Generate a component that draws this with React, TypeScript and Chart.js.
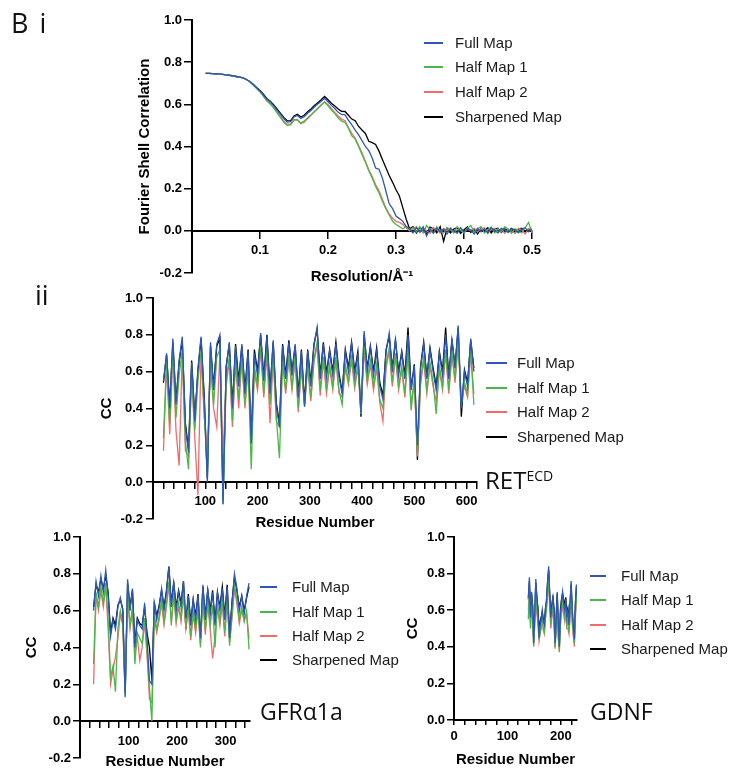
import React, { useEffect, useRef } from 'react';
import { Chart, registerables } from 'chart.js';

Chart.register(...registerables);

const SERIES_NAMES = ['Full Map', 'Half Map 1', 'Half Map 2', 'Sharpened Map'];
const SERIES_COLORS = ['#2c58b8', '#4bb749', '#f26b6b', '#000000'];

// ---------- Panel i: FSC ----------
const fscResolution = [
  0.02, 0.025, 0.03, 0.035, 0.04, 0.045, 0.05, 0.055, 0.06, 0.065,
  0.07, 0.075, 0.08, 0.085, 0.09, 0.095, 0.1, 0.105, 0.11, 0.115,
  0.12, 0.125, 0.13, 0.135, 0.14, 0.145, 0.15, 0.155, 0.16, 0.165,
  0.17, 0.175, 0.18, 0.185, 0.19, 0.195, 0.2, 0.205, 0.21, 0.215,
  0.22, 0.225, 0.23, 0.235, 0.24, 0.245, 0.25, 0.255, 0.26, 0.265,
  0.27, 0.275, 0.28, 0.285, 0.29, 0.295, 0.3, 0.305, 0.31, 0.315,
  0.32, 0.325, 0.33, 0.335, 0.34, 0.345, 0.35, 0.355, 0.36, 0.365,
  0.37, 0.375, 0.38, 0.385, 0.39, 0.395, 0.4, 0.405, 0.41, 0.415,
  0.42, 0.425, 0.43, 0.435, 0.44, 0.445, 0.45, 0.455, 0.46, 0.465,
  0.47, 0.475, 0.48, 0.485, 0.49, 0.495, 0.5,
];
const fscFull = [
  0.747, 0.747, 0.746, 0.745, 0.744, 0.742, 0.74, 0.738, 0.735, 0.732,
  0.729, 0.725, 0.718, 0.708, 0.694, 0.678, 0.663, 0.645, 0.625, 0.612,
  0.594, 0.573, 0.553, 0.532, 0.516, 0.518, 0.54, 0.547, 0.533, 0.541,
  0.558, 0.571, 0.587, 0.601, 0.615, 0.629, 0.612, 0.595, 0.58, 0.562,
  0.552, 0.55, 0.525, 0.503, 0.478, 0.455, 0.428, 0.4, 0.38, 0.345,
  0.298, 0.292, 0.25, 0.19, 0.128, 0.105, 0.07, 0.058, 0.045, 0.02,
  0.01, -0.01, 0.015, -0.005, 0.02, -0.025, 0.01, -0.01, 0.012, -0.005,
  0.008, -0.015, 0.01, 0.0, -0.012, 0.015, -0.005, 0.01, 0.005, -0.015,
  0.012, -0.005, 0.01, -0.012, 0.015, 0.0, -0.01, 0.012, 0.005, -0.008,
  0.01, 0.005, -0.01, 0.008, 0.015, -0.005, 0.01,
];
const fscHalf1 = [
  0.747, 0.747, 0.746, 0.745, 0.744, 0.742, 0.74, 0.738, 0.735, 0.732,
  0.729, 0.725, 0.718, 0.707, 0.692, 0.675, 0.66, 0.64, 0.618, 0.603,
  0.583, 0.56, 0.538, 0.515, 0.5, 0.502, 0.525, 0.528, 0.512, 0.52,
  0.536, 0.55, 0.565, 0.58, 0.595, 0.611, 0.593, 0.573, 0.556, 0.535,
  0.52, 0.515, 0.487, 0.45, 0.435, 0.4, 0.362, 0.325, 0.285, 0.25,
  0.21, 0.18, 0.14, 0.105, 0.075, 0.045, 0.03, 0.02, 0.01, 0.02,
  0.005, 0.015, -0.005, 0.02, -0.01, 0.025, 0.005, -0.012, 0.02, 0.0,
  -0.01, 0.015, 0.005, -0.01, 0.02, 0.0, -0.008, 0.012, 0.025, -0.005,
  0.01, 0.02, -0.01, 0.005, 0.018, -0.01, 0.01, -0.005, 0.02, 0.008,
  -0.012, 0.01, 0.0, -0.01, 0.015, 0.04, -0.01,
];
const fscHalf2 = [
  0.747, 0.747, 0.746, 0.745, 0.744, 0.742, 0.74, 0.738, 0.735, 0.732,
  0.729, 0.725, 0.718, 0.707, 0.692, 0.676, 0.66, 0.638, 0.615, 0.602,
  0.584, 0.563, 0.542, 0.52, 0.505, 0.507, 0.528, 0.525, 0.508, 0.515,
  0.532, 0.548, 0.566, 0.582, 0.598, 0.612, 0.598, 0.58, 0.562, 0.545,
  0.53, 0.522, 0.49, 0.462, 0.44, 0.405, 0.37, 0.33, 0.29, 0.258,
  0.22, 0.19, 0.15, 0.11, 0.08, 0.06, 0.045, 0.04, 0.03, 0.015,
  0.0, 0.01, 0.02, -0.008, 0.012, 0.0, -0.012, 0.015, 0.005, -0.01,
  0.012, 0.0, 0.015, -0.008, 0.005, 0.012, -0.01, 0.008, 0.0, 0.012,
  -0.005, 0.01, 0.015, -0.01, 0.005, 0.012, -0.008, 0.01, -0.012, 0.008,
  0.0, -0.01, 0.012, 0.005, -0.015, 0.01, 0.005,
];
const fscSharpened = [
  0.747, 0.747, 0.746, 0.745, 0.744, 0.742, 0.74, 0.738, 0.735, 0.732,
  0.729, 0.725, 0.718, 0.708, 0.695, 0.68, 0.666, 0.648, 0.628, 0.615,
  0.598, 0.578, 0.558, 0.538, 0.522, 0.523, 0.545, 0.553, 0.54, 0.548,
  0.565, 0.578, 0.594, 0.608, 0.622, 0.638, 0.622, 0.605, 0.592, 0.578,
  0.567, 0.566, 0.548, 0.53, 0.522, 0.495, 0.478, 0.462, 0.425, 0.418,
  0.41, 0.378, 0.338, 0.3, 0.262, 0.23, 0.195, 0.165, 0.11, 0.055,
  0.01, 0.02, -0.01, 0.015, 0.005, -0.015, 0.018, 0.01, -0.01, 0.02,
  -0.05, 0.012, -0.01, 0.008, 0.015, -0.012, 0.005, 0.018, -0.008, 0.01,
  -0.015, 0.012, 0.0, 0.015, -0.01, 0.008, 0.012, -0.008, 0.01, 0.0,
  0.012, -0.01, 0.008, 0.012, -0.005, 0.01, 0.002,
];

// ---------- Panel ii: RET ECD ----------
const retResidues = [
  20, 26, 32, 38, 44, 50, 56, 62, 68, 74,
  80, 86, 92, 98, 104, 110, 116, 122, 128, 134,
  140, 146, 152, 158, 164, 170, 176, 182, 188, 194,
  200, 206, 212, 218, 224, 230, 236, 242, 248, 254,
  260, 266, 272, 278, 284, 290, 296, 302, 308, 314,
  320, 326, 332, 338, 344, 350, 356, 362, 368, 374,
  380, 386, 392, 398, 404, 410, 416, 422, 428, 434,
  440, 446, 452, 458, 464, 470, 476, 482, 488, 494,
  500, 506, 512, 518, 524, 530, 536, 542, 548, 554,
  560, 566, 572, 578, 584, 590, 596, 602, 608, 614,
];
const retFull = [
  0.55, 0.70, 0.40, 0.78, 0.42, 0.66, 0.79, 0.30, 0.16, 0.65,
  0.33, 0.62, 0.79, 0.45, 0.00, 0.76, 0.50, 0.75, 0.80, -0.12,
  0.62, 0.76, 0.40, 0.74, 0.52, 0.75, 0.48, 0.71, 0.21, 0.70,
  0.58, 0.81, 0.55, 0.79, 0.48, 0.77, 0.41, 0.30, 0.74, 0.56,
  0.76, 0.58, 0.75, 0.46, 0.71, 0.41, 0.71, 0.52, 0.74, 0.84,
  0.56, 0.75, 0.57, 0.71, 0.58, 0.75, 0.57, 0.48, 0.71, 0.60,
  0.75, 0.58, 0.70, 0.38, 0.82, 0.60, 0.73, 0.58, 0.71, 0.52,
  0.45, 0.71, 0.81, 0.60, 0.78, 0.58, 0.70, 0.56, 0.80, 0.50,
  0.63, 0.20, 0.62, 0.75, 0.56, 0.72, 0.60, 0.50, 0.70, 0.58,
  0.80, 0.56, 0.78, 0.62, 0.85, 0.40, 0.60, 0.52, 0.78, 0.60,
];
const retHalf1 = [
  0.24, 0.66, 0.32, 0.72, 0.35, 0.58, 0.72, 0.22, 0.07, 0.60,
  0.28, 0.55, 0.72, 0.38, 0.05, 0.68, 0.42, 0.68, 0.72, -0.12,
  0.55, 0.68, 0.33, 0.67, 0.45, 0.68, 0.42, 0.64, 0.07, 0.63,
  0.52, 0.74, 0.48, 0.72, 0.42, 0.70, 0.35, 0.13, 0.67, 0.50,
  0.69, 0.52, 0.68, 0.40, 0.64, 0.41, 0.64, 0.46, 0.67, 0.76,
  0.50, 0.68, 0.51, 0.64, 0.52, 0.68, 0.50, 0.42, 0.64, 0.55,
  0.68, 0.53, 0.64, 0.37, 0.74, 0.55, 0.66, 0.52, 0.64, 0.45,
  0.40, 0.64, 0.73, 0.54, 0.70, 0.52, 0.63, 0.48, 0.72, 0.39,
  0.56, 0.16, 0.55, 0.68, 0.50, 0.65, 0.54, 0.37, 0.63, 0.52,
  0.72, 0.50, 0.71, 0.56, 0.77, 0.42, 0.54, 0.48, 0.72, 0.42,
];
const retHalf2 = [
  0.17, 0.64, 0.26, 0.70, 0.28, 0.09, 0.70, 0.17, 0.14, 0.58,
  0.24, -0.07, 0.70, 0.36, 0.15, 0.66, 0.40, 0.30, 0.70, 0.15,
  0.52, 0.66, 0.30, 0.65, 0.40, 0.66, 0.40, 0.62, 0.22, 0.60,
  0.50, 0.72, 0.46, 0.70, 0.32, 0.68, 0.33, 0.30, 0.65, 0.48,
  0.67, 0.50, 0.66, 0.38, 0.62, 0.42, 0.62, 0.44, 0.65, 0.74,
  0.47, 0.66, 0.48, 0.62, 0.50, 0.66, 0.48, 0.46, 0.62, 0.53,
  0.66, 0.51, 0.62, 0.40, 0.72, 0.53, 0.64, 0.50, 0.62, 0.43,
  0.33, 0.62, 0.71, 0.52, 0.68, 0.50, 0.61, 0.46, 0.70, 0.43,
  0.54, 0.14, 0.53, 0.66, 0.48, 0.63, 0.52, 0.44, 0.61, 0.50,
  0.70, 0.48, 0.69, 0.54, 0.75, 0.45, 0.52, 0.46, 0.70, 0.48,
];
const retSharpened = [
  0.54, 0.69, 0.42, 0.76, 0.44, 0.65, 0.77, 0.32, 0.18, 0.66,
  0.35, 0.60, 0.78, 0.47, 0.02, 0.74, 0.52, 0.74, 0.78, -0.10,
  0.63, 0.75, 0.42, 0.75, 0.55, 0.74, 0.50, 0.72, 0.24, 0.72,
  0.60, 0.80, 0.57, 0.80, 0.50, 0.76, 0.43, 0.32, 0.75, 0.58,
  0.77, 0.60, 0.74, 0.48, 0.72, 0.43, 0.72, 0.54, 0.75, 0.83,
  0.58, 0.76, 0.59, 0.72, 0.60, 0.76, 0.59, 0.49, 0.72, 0.62,
  0.76, 0.60, 0.71, 0.355, 0.80, 0.62, 0.74, 0.60, 0.73, 0.54,
  0.47, 0.72, 0.79, 0.62, 0.77, 0.60, 0.71, 0.58, 0.84, 0.51,
  0.64, 0.12, 0.63, 0.76, 0.57, 0.73, 0.62, 0.52, 0.71, 0.60,
  0.84, 0.57, 0.77, 0.63, 0.84, 0.355, 0.61, 0.54, 0.77, 0.62,
];

// ---------- GFRa1a ----------
const gfrResidues = [
  28, 33, 38, 43, 48, 53, 58, 63, 68, 73,
  78, 83, 88, 93, 98, 103, 108, 113, 118, 123,
  128, 133, 138, 143, 148, 153, 158, 163, 168, 173,
  178, 183, 188, 193, 198, 203, 208, 213, 218, 223,
  228, 233, 238, 243, 248, 253, 258, 263, 268, 273,
  278, 283, 288, 293, 298, 303, 308, 313, 318, 323,
  328, 333, 338, 343, 348,
];
const gfrFull = [
  0.60, 0.76, 0.68, 0.79, 0.70, 0.82, 0.68, 0.46, 0.55, 0.50,
  0.62, 0.67, 0.60, 0.13, 0.77, 0.60, 0.72, 0.40, 0.55, 0.52,
  0.50, 0.64, 0.45, 0.22, 0.20, 0.65, 0.55, 0.62, 0.72, 0.60,
  0.70, 0.84, 0.62, 0.76, 0.60, 0.70, 0.62, 0.76, 0.56, 0.68,
  0.52, 0.66, 0.55, 0.68, 0.45, 0.74, 0.55, 0.72, 0.58, 0.70,
  0.52, 0.70, 0.60, 0.72, 0.55, 0.73, 0.45, 0.64, 0.80, 0.72,
  0.60, 0.68, 0.58, 0.68, 0.75,
];
const gfrHalf1 = [
  0.31, 0.70, 0.62, 0.73, 0.64, 0.75, 0.55, 0.24, 0.30, 0.16,
  0.50, 0.60, 0.54, 0.14, 0.70, 0.52, 0.62, 0.31, 0.48, 0.45,
  0.42, 0.56, 0.38, 0.18, 0.00, 0.58, 0.50, 0.57, 0.66, 0.54,
  0.64, 0.76, 0.52, 0.70, 0.55, 0.64, 0.56, 0.70, 0.52, 0.62,
  0.46, 0.60, 0.50, 0.62, 0.40, 0.68, 0.49, 0.66, 0.52, 0.63,
  0.40, 0.64, 0.54, 0.66, 0.48, 0.67, 0.41, 0.58, 0.74, 0.66,
  0.55, 0.62, 0.54, 0.60, 0.39,
];
const gfrHalf2 = [
  0.20, 0.68, 0.60, 0.71, 0.62, 0.73, 0.50, 0.20, 0.28, 0.35,
  0.45, 0.58, 0.52, 0.18, 0.68, 0.50, 0.60, 0.36, 0.46, 0.33,
  0.40, 0.54, 0.36, 0.12, 0.10, 0.56, 0.48, 0.55, 0.64, 0.52,
  0.62, 0.74, 0.54, 0.68, 0.53, 0.62, 0.54, 0.68, 0.50, 0.60,
  0.44, 0.58, 0.48, 0.60, 0.42, 0.66, 0.47, 0.64, 0.50, 0.34,
  0.46, 0.62, 0.52, 0.64, 0.46, 0.65, 0.43, 0.56, 0.72, 0.64,
  0.53, 0.60, 0.55, 0.58, 0.45,
];
const gfrSharpened = [
  0.62, 0.74, 0.70, 0.77, 0.72, 0.79, 0.70, 0.48, 0.56, 0.52,
  0.63, 0.66, 0.61, 0.16, 0.75, 0.62, 0.71, 0.42, 0.56, 0.53,
  0.52, 0.62, 0.48, 0.40, 0.22, 0.64, 0.57, 0.63, 0.71, 0.62,
  0.71, 0.84, 0.64, 0.75, 0.62, 0.71, 0.64, 0.76, 0.50, 0.69,
  0.54, 0.66, 0.57, 0.69, 0.44, 0.73, 0.57, 0.71, 0.60, 0.71,
  0.54, 0.70, 0.62, 0.73, 0.57, 0.74, 0.47, 0.65, 0.78, 0.71,
  0.62, 0.68, 0.60, 0.67, 0.73,
];

// ---------- GDNF ----------
const gdnfResidues = [
  139, 141, 143, 145, 147, 149, 151, 153, 155, 157,
  159, 161, 163, 165, 167, 169, 171, 173, 175, 177,
  179, 181, 183, 185, 187, 189, 191, 193, 195, 197,
  199, 201, 203, 205, 207, 209, 211, 213, 215, 217,
  219, 221, 223, 225, 227, 229, 231,
];
const gdnfFull = [
  0.67, 0.78, 0.56, 0.70, 0.62, 0.42, 0.58, 0.77, 0.66, 0.60,
  0.45, 0.52, 0.55, 0.60, 0.54, 0.52, 0.60, 0.66, 0.76, 0.84,
  0.68, 0.56, 0.62, 0.68, 0.60, 0.42, 0.55, 0.70, 0.52, 0.40,
  0.58, 0.65, 0.70, 0.64, 0.60, 0.66, 0.56, 0.60, 0.52, 0.64,
  0.76, 0.60, 0.52, 0.44, 0.64, 0.74, 0.67,
];
const gdnfHalf1 = [
  0.55, 0.72, 0.50, 0.64, 0.56, 0.40, 0.54, 0.70, 0.60, 0.55,
  0.44, 0.48, 0.52, 0.56, 0.50, 0.48, 0.56, 0.60, 0.70, 0.76,
  0.62, 0.52, 0.58, 0.62, 0.55, 0.40, 0.50, 0.64, 0.46, 0.37,
  0.54, 0.60, 0.65, 0.60, 0.56, 0.61, 0.52, 0.55, 0.48, 0.58,
  0.70, 0.55, 0.48, 0.42, 0.58, 0.68, 0.64,
];
const gdnfHalf2 = [
  0.60, 0.70, 0.52, 0.62, 0.55, 0.41, 0.52, 0.68, 0.58, 0.53,
  0.43, 0.47, 0.50, 0.55, 0.49, 0.47, 0.55, 0.62, 0.68, 0.78,
  0.64, 0.50, 0.56, 0.60, 0.53, 0.39, 0.49, 0.62, 0.45, 0.38,
  0.52, 0.58, 0.63, 0.58, 0.54, 0.60, 0.50, 0.50, 0.47, 0.56,
  0.68, 0.53, 0.46, 0.40, 0.56, 0.66, 0.64,
];
const gdnfSharpened = [
  0.66, 0.76, 0.58, 0.69, 0.63, 0.44, 0.59, 0.75, 0.67, 0.61,
  0.47, 0.54, 0.56, 0.59, 0.55, 0.53, 0.61, 0.65, 0.75, 0.82,
  0.69, 0.58, 0.63, 0.67, 0.61, 0.40, 0.56, 0.69, 0.54, 0.42,
  0.60, 0.66, 0.69, 0.66, 0.62, 0.67, 0.58, 0.61, 0.54, 0.63,
  0.74, 0.61, 0.50, 0.43, 0.63, 0.73, 0.66,
];

const FONT = "'Liberation Sans', Arial, Helvetica, sans-serif";
const LABEL_FONT = "'Open Sans', 'Noto Sans', sans-serif";

const fmt1 = (v: number) => {
  const r = Math.round(v * 10) / 10;
  return (r === 0 ? 0 : r).toFixed(1);
};

type AxisSpec = {
  min: number;
  max: number;
  step: number;
  title: string;
  tickLen: number;
  pad: number;
  label: (v: number) => string;
};

type PanelSpec = {
  left: number;
  top: number;
  width: number;
  height: number;
  padLeft: number;
  padTop: number;
  padRight: number;
  padBottom: number;
  yWidth: number;
  xHeight: number;
  xAtZero: boolean;
  x: AxisSpec;
  y: AxisSpec;
  xs: number[];
  series: number[][];
  lineWidth: number;
};

function buildConfig(s: PanelSpec): any {
  const tickFont = { family: FONT, size: 13, weight: 'bold' };
  const titleFont = { family: FONT, size: 15, weight: 'bold' };
  const grid = (len: number) => ({
    display: true,
    drawOnChartArea: false,
    drawTicks: true,
    tickLength: len,
    color: '#000',
    lineWidth: 1.5,
  });
  const border = { display: true, color: '#000', width: 2 };
  return {
    type: 'line',
    data: {
      datasets: s.series.map((vals, i) => ({
        label: SERIES_NAMES[i],
        data: s.xs.map((x, j) => ({ x, y: vals[j] })),
        borderColor: SERIES_COLORS[i],
        backgroundColor: SERIES_COLORS[i],
        borderWidth: s.lineWidth,
        pointRadius: 0,
        pointHoverRadius: 0,
        tension: 0,
        fill: false,
      })),
    },
    options: {
      animation: false,
      responsive: false,
      maintainAspectRatio: false,
      devicePixelRatio: 1,
      events: [],
      layout: {
        padding: { left: s.padLeft, top: s.padTop, right: s.padRight, bottom: s.padBottom },
      },
      plugins: { legend: { display: false }, tooltip: { enabled: false } },
      scales: {
        x: {
          type: 'linear',
          position: s.xAtZero ? { y: 0 } : 'bottom',
          min: s.x.min,
          max: s.x.max,
          afterFit: (scale: any) => {
            scale.height = s.xHeight;
          },
          ticks: {
            stepSize: s.x.step,
            autoSkip: false,
            maxRotation: 0,
            minRotation: 0,
            includeBounds: false,
            padding: s.x.pad,
            color: '#000',
            font: tickFont,
            callback: (v: any) => s.x.label(Number(v)),
          },
          grid: grid(s.x.tickLen),
          border,
          title: {
            display: true,
            text: s.x.title,
            color: '#000',
            font: titleFont,
            padding: { top: 4, bottom: 4 },
          },
        },
        y: {
          type: 'linear',
          position: 'left',
          min: s.y.min,
          max: s.y.max,
          afterFit: (scale: any) => {
            scale.width = s.yWidth;
          },
          ticks: {
            stepSize: s.y.step,
            autoSkip: false,
            includeBounds: false,
            padding: s.y.pad,
            color: '#000',
            font: tickFont,
            callback: (v: any) => s.y.label(Number(v)),
          },
          grid: grid(s.y.tickLen),
          border,
          title: {
            display: true,
            text: s.y.title,
            color: '#000',
            font: titleFont,
            padding: { top: 4, bottom: 4 },
          },
        },
      },
    },
  };
}

function Panel({ spec }: { spec: PanelSpec }) {
  const ref = useRef<HTMLCanvasElement | null>(null);
  useEffect(() => {
    if (!ref.current) return;
    const chart = new Chart(ref.current, buildConfig(spec));
    return () => chart.destroy();
  }, []);
  return (
    <canvas
      ref={ref}
      width={spec.width}
      height={spec.height}
      style={{
        position: 'absolute',
        left: spec.left,
        top: spec.top,
        width: spec.width,
        height: spec.height,
      }}
    />
  );
}

function Legend({
  lineLeft,
  lineLen,
  textLeft,
  firstY,
  spacing,
}: {
  lineLeft: number;
  lineLen: number;
  textLeft: number;
  firstY: number;
  spacing: number;
}) {
  return (
    <>
      {SERIES_NAMES.map((name, i) => {
        const y = Math.round(firstY + i * spacing);
        return (
          <React.Fragment key={name}>
            <div
              style={{
                position: 'absolute',
                left: Math.round(lineLeft),
                top: y - 1,
                width: Math.round(lineLen),
                height: 2,
                background: SERIES_COLORS[i],
              }}
            />
            <div
              style={{
                position: 'absolute',
                left: textLeft,
                top: y - 9,
                height: 18,
                lineHeight: '18px',
                fontSize: 15,
                fontFamily: FONT,
                color: '#1a1a1a',
                whiteSpace: 'nowrap',
              }}
            >
              {name}
            </div>
          </React.Fragment>
        );
      })}
    </>
  );
}

const yLabel = (v: number) => fmt1(v);
const residueLabel = (v: number) => (v % 100 === 0 && v !== 0 ? String(v) : '');

const fscSpec: PanelSpec = {
  left: 0,
  top: 0,
  width: 552,
  height: 332,
  padLeft: 132,
  padTop: 20,
  padRight: 20,
  padBottom: 59,
  yWidth: 60,
  xHeight: 59,
  xAtZero: true,
  x: {
    min: 0,
    max: 0.5,
    step: 0.1,
    title: 'Resolution/Å⁻¹',
    tickLen: 7,
    pad: 5,
    label: (v) => (Math.abs(v) < 1e-9 ? '' : fmt1(v)),
  },
  y: { min: -0.2, max: 1.0, step: 0.2, title: 'Fourier Shell Correlation', tickLen: 8, pad: 2, label: yLabel },
  xs: fscResolution,
  series: [fscFull, fscHalf1, fscHalf2, fscSharpened],
  lineWidth: 1.3,
};

const retSpec: PanelSpec = {
  left: 0,
  top: 278,
  width: 497,
  height: 295,
  padLeft: 94,
  padTop: 20,
  padRight: 20,
  padBottom: 54,
  yWidth: 59,
  xHeight: 54,
  xAtZero: true,
  x: { min: 0, max: 620, step: 20, title: 'Residue Number', tickLen: 6, pad: 5, label: residueLabel },
  y: { min: -0.2, max: 1.0, step: 0.2, title: 'CC', tickLen: 7, pad: 3, label: yLabel },
  xs: retResidues,
  series: [retFull, retHalf1, retHalf2, retSharpened],
  lineWidth: 1.3,
};

const gfrSpec: PanelSpec = {
  left: 0,
  top: 517,
  width: 270,
  height: 295,
  padLeft: 19,
  padTop: 20,
  padRight: 20,
  padBottom: 54,
  yWidth: 61,
  xHeight: 54,
  xAtZero: true,
  x: { min: 0, max: 350, step: 20, title: 'Residue Number', tickLen: 6, pad: 6, label: residueLabel },
  y: { min: -0.2, max: 1.0, step: 0.2, title: 'CC', tickLen: 7, pad: 2, label: yLabel },
  xs: gfrResidues,
  series: [gfrFull, gfrHalf1, gfrHalf2, gfrSharpened],
  lineWidth: 1.3,
};

const gdnfSpec: PanelSpec = {
  left: 370,
  top: 517,
  width: 227,
  height: 256,
  padLeft: 30,
  padTop: 20,
  padRight: 20,
  padBottom: 0,
  yWidth: 54,
  xHeight: 53,
  xAtZero: false,
  x: {
    min: 0,
    max: 230,
    step: 20,
    title: 'Residue Number',
    tickLen: 5,
    pad: 4,
    label: (v) => (v % 100 === 0 ? String(v) : ''),
  },
  y: { min: 0, max: 1.0, step: 0.2, title: 'CC', tickLen: 7, pad: 2, label: yLabel },
  xs: gdnfResidues,
  series: [gdnfFull, gdnfHalf1, gdnfHalf2, gdnfSharpened],
  lineWidth: 1.3,
};

const bigText = (size: number): React.CSSProperties => ({
  position: 'absolute',
  fontFamily: LABEL_FONT,
  fontSize: size,
  lineHeight: `${size}px`,
  color: '#111',
  whiteSpace: 'nowrap',
});

export default function App() {
  return (
    <div
      style={{
        position: 'absolute',
        left: 0,
        top: 0,
        width: 730,
        height: 770,
        overflow: 'hidden',
        background: '#fff',
      }}
    >
      <Panel spec={fscSpec} />
      <Panel spec={retSpec} />
      <Panel spec={gfrSpec} />
      <Panel spec={gdnfSpec} />

      <Legend lineLeft={424} lineLen={19} textLeft={455} firstY={42.7} spacing={24.6} />
      <Legend lineLeft={486} lineLen={21} textLeft={517} firstY={363.3} spacing={24.5} />
      <Legend lineLeft={260} lineLen={17} textLeft={292} firstY={587.3} spacing={24.3} />
      <Legend lineLeft={590} lineLen={16} textLeft={621} firstY={575.7} spacing={24.4} />

      <div style={{ ...bigText(27), left: 11, top: 9, wordSpacing: 4 }}>B i</div>
      <div style={{ ...bigText(27), left: 35, top: 281 }}>ii</div>
      <div style={{ ...bigText(24), left: 485, top: 464 }}>
        RET<span style={{ fontSize: 14, verticalAlign: 8 }}>ECD</span>
      </div>
      <div style={{ ...bigText(23), left: 260, top: 700 }}>GFRα1a</div>
      <div style={{ ...bigText(23), left: 590, top: 700 }}>GDNF</div>
    </div>
  );
}
